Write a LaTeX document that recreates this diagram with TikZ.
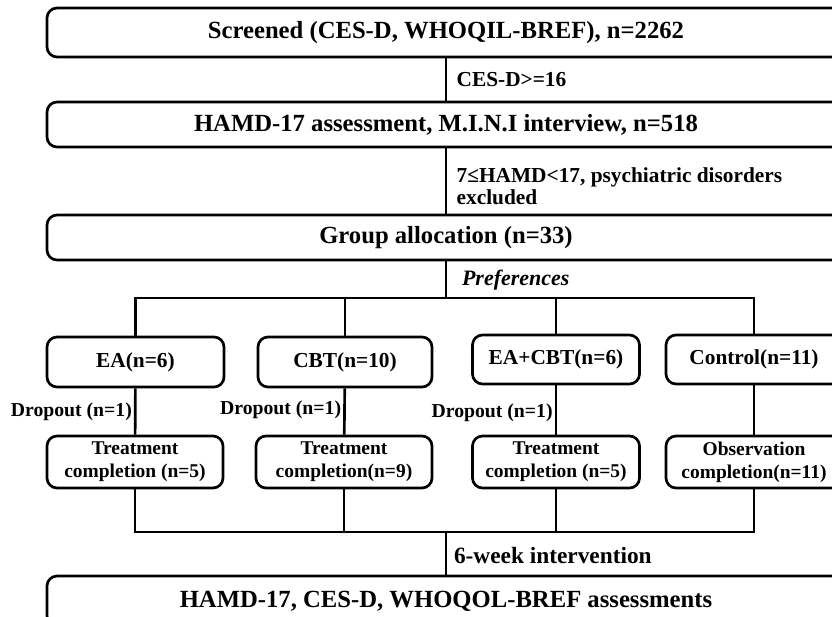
\documentclass[tikz,border=0pt]{standalone}
\usepackage{fontspec}
\setmainfont{Liberation Serif}
\usepackage{tikz}
\usetikzlibrary{positioning, calc}

\tikzset{
  box/.style={draw, line width=2pt, rounded corners=7.5pt, align=center,
              inner sep=0pt, font=\bfseries},
  widebox/.style={box, minimum width=598.5pt, minimum height=33.75pt,
              font=\bfseries\fontsize{18.5}{22}\selectfont},
  groupbox/.style={box, minimum width=132pt, minimum height=37.5pt,
              font=\bfseries\fontsize{16}{19}\selectfont},
  donebox/.style={box, minimum width=132pt, minimum height=39pt,
              font=\bfseries\fontsize{14.6}{17.5}\selectfont},
  link/.style={line width=2pt},
  steplabel/.style={font=\bfseries\fontsize{16}{16.5}\selectfont, align=left, inner sep=0pt},
  droplabel/.style={font=\bfseries\fontsize{14.8}{17}\selectfont, inner sep=0pt}
}

\begin{document}
\begin{tikzpicture}[x=0.75pt, y=-0.75pt]
  \useasboundingbox (0,0) rectangle (832,617);
  \clip (0,0) rectangle (832,617);

  % stages
  \node[widebox, minimum height=36.75pt] (screen) at (446,32.5) {Screened (CES-D, WHOQIL-BREF), n=2262};
  \node[widebox] (hamd) at (446,124.5) {HAMD-17 assessment, M.I.N.I interview, n=518};
  \node[widebox] (alloc) at (446,237.5) {Group allocation (n=33)};

  % groups
  \node[groupbox, minimum width=132.75pt] (ea) at (135.5,362) {EA(n=6)};
  \node[groupbox, minimum width=130.5pt] (cbt) at (345,362) {CBT(n=10)};
  \node[groupbox, minimum width=125.25pt, minimum height=36.75pt] (eacbt) at (556,359.5) {EA+CBT(n=6)};
  \node[groupbox, minimum height=36.75pt] (ctrl) at (754,359.5) {Control(n=11)};

  \node[donebox] (tea) at (135,462) {Treatment\\completion (n=5)};
  \node[donebox] (tcbt) at (344,462) {Treatment\\completion(n=9)};
  \node[donebox, minimum width=125.25pt] (teacbt) at (556,462) {Treatment\\completion (n=5)};
  \node[donebox] (obs) at (754,462) {Observation\\completion(n=11)};

  \node[widebox, minimum height=37.5pt] (final) at (446,601) {HAMD-17, CES-D, WHOQOL-BREF assessments};

  \coordinate (split) at (446,298);
  \coordinate (merge) at (446,532);

  % connectors
  \draw[link] (screen) -- node[steplabel, right=7pt] (cesd) {CES-D>=16} (hamd);
  \draw[link] (hamd) -- node[steplabel, right=7pt, yshift=-4pt] (crit) {7≤HAMD<17, psychiatric disorders\\excluded} (alloc);
  \draw[link] (alloc) -- node[steplabel, right=11pt, font=\bfseries\itshape\fontsize{16.5}{18}\selectfont] (pref) {Preferences} (split);
  \draw[link] (ea) |- (split) -| (ctrl);
  \draw[link] (cbt) -- (cbt |- split);
  \draw[link] (eacbt) -- (eacbt |- split);

  \draw[link] (ea) -- node[droplabel, left=1.5pt] (drop1) {Dropout (n=1)} (tea);
  \draw[link] (cbt) -- node[droplabel, left=1.5pt, yshift=1pt] (drop2) {Dropout (n=1)} (tcbt);
  \draw[link] (eacbt) -- node[droplabel, left=1.5pt, yshift=-2pt] (drop3) {Dropout (n=1)} (teacbt);
  \draw[link] (ctrl) -- (obs);

  \draw[link] (tea) |- (merge) -| (obs);
  \draw[link] (tcbt) -- (tcbt |- merge);
  \draw[link] (teacbt) -- (teacbt |- merge);
  \draw[link] (merge) -- node[steplabel, right=5pt, yshift=-2pt, font=\bfseries\fontsize{17.5}{19}\selectfont] (weeks) {6-week intervention} (final);
\end{tikzpicture}
\end{document}
